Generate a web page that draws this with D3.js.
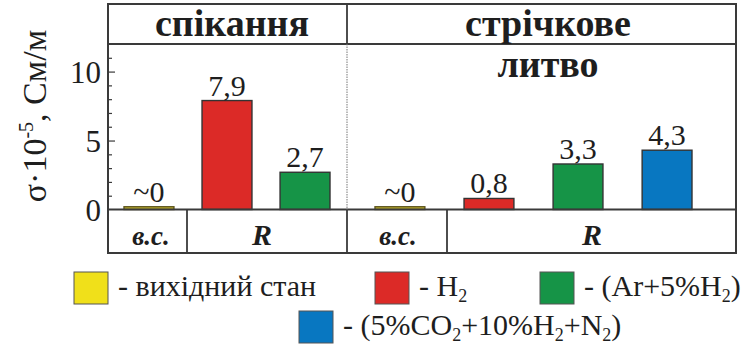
<!DOCTYPE html>
<html>
<head>
<meta charset="utf-8">
<script src="https://cdn.jsdelivr.net/npm/d3@7/dist/d3.min.js"></script>
<style>
  body { margin: 0; background: #fff; }
</style>
</head>
<body>
<svg id="chart" width="747" height="361"></svg>
<script>
// Conductivity σ·10^-5, См/м by processing route and atmosphere
const sinterCats = ["вс", "H2", "Ar"];
const sinterValues = [0.2, 7.9, 2.7];
const sinterLabels = ["~0", "7,9", "2,7"];

const castCats = ["вс", "H2", "Ar", "CO2"];
const castValues = [0.2, 0.8, 3.3, 4.3];
const castLabels = ["~0", "0,8", "3,3", "4,3"];

const yTicks = [0, 5, 10];
const colors = { "вс": "#f0e01a", "H2": "#dc2a27", "Ar": "#169447", "CO2": "#0877c1" };
const legendItems = [
  { key: "вс", parts: [["- вихідний стан"]] },
  { key: "H2", parts: [["- H"], ["2", "sub"]] },
  { key: "Ar", parts: [["- (Ar+5%H"], ["2", "sub"], [")"]] },
  { key: "CO2", parts: [["- (5%CO"], ["2", "sub"], ["+10%H"], ["2", "sub"], ["+N"], ["2", "sub"], [")"]] }
];

const serif = "'Liberation Serif', serif";
const svg = d3.select("#chart").style("font-family", serif);
const frameColor = "#3a3a3a";
const ink = "#1e1e1e";

const fLeft = 108, fRight = 736, fTop = 4, headerBottom = 44, base = 209.5, fBottom = 253, mid = 347;
const y = d3.scaleLinear().domain([0, 12]).range([base, headerBottom]);

// bars and value labels for one panel
function drawBars(scale, cats, vals, labels) {
  const g = svg.append("g");
  g.selectAll("rect").data(cats).join("rect")
    .attr("x", d => scale(d))
    .attr("width", scale.bandwidth())
    .attr("y", (d, i) => y(vals[i]))
    .attr("height", (d, i) => y(0) - y(vals[i]))
    .attr("fill", d => d === "вс" ? "#c9b92a" : colors[d])
    .attr("stroke", d => d === "вс" ? "#5e5620" : "#333")
    .attr("stroke-width", 1.4);
  g.selectAll("text").data(cats).join("text")
    .attr("x", d => scale(d) + scale.bandwidth() / 2)
    .attr("y", (d, i) => y(vals[i]) - 5)
    .attr("text-anchor", "middle")
    .style("font-family", serif)
    .attr("font-size", 30)
    .attr("fill", ink)
    .text((d, i) => labels[i]);
}

const xSinter = d3.scaleBand().domain(sinterCats).range([124, 330]).paddingInner(0.36).paddingOuter(0);
const xCast = d3.scaleBand().domain(castCats).range([375, 692]).paddingInner(0.44).paddingOuter(0);
drawBars(xSinter, sinterCats, sinterValues, sinterLabels);
drawBars(xCast, castCats, castValues, castLabels);

// frame
const lines = svg.append("g").attr("stroke", frameColor).attr("fill", "none");
lines.append("rect").attr("x", fLeft).attr("y", fTop).attr("width", fRight - fLeft).attr("height", fBottom - fTop).attr("stroke-width", 2);
[[fLeft, fRight, headerBottom, headerBottom], [fLeft, fRight, base, base],
 [mid, mid, fTop, headerBottom], [mid, mid, base, fBottom],
 [187, 187, base, fBottom], [447, 447, base, fBottom]]
  .forEach(([x1, x2, y1, y2]) => lines.append("line").attr("x1", x1).attr("x2", x2).attr("y1", y1).attr("y2", y2).attr("stroke-width", 1.8));
lines.append("line").attr("x1", mid).attr("x2", mid).attr("y1", headerBottom).attr("y2", base)
  .attr("stroke-width", 1).attr("stroke", "#777").attr("stroke-dasharray", "1.5,1");

// y axis ticks (inward)
const axis = d3.axisRight(y).ticks(12).tickSize(4).tickFormat("");
const ag = svg.append("g").attr("transform", `translate(${fLeft},0)`).call(axis);
ag.select(".domain").remove();
ag.selectAll(".tick line").attr("stroke", frameColor).attr("stroke-width", 1.2)
  .attr("x2", d => yTicks.includes(d) ? 7 : 4);
ag.selectAll(".tick").filter(d => d === 0 || d > 11).remove();

svg.append("g").selectAll("text").data(yTicks).join("text")
  .attr("x", 101).attr("y", d => y(d) + 11)
  .attr("text-anchor", "end").style("font-family", serif).attr("font-size", 31).attr("fill", ink)
  .text(d => d);

// y axis title
const yt = svg.append("text").attr("transform", "translate(46,116) rotate(-90)")
  .attr("text-anchor", "middle").style("font-family", serif).attr("font-size", 34).attr("fill", ink);
yt.append("tspan").text("σ·10");
yt.append("tspan").attr("font-size", 20).attr("dy", -13).text("-5");
yt.append("tspan").attr("dy", 13).text(", См/м");

// headers
function header(x, yy, t) {
  svg.append("text").attr("x", x).attr("y", yy).attr("text-anchor", "middle")
    .style("font-family", serif).attr("font-size", 38).attr("font-weight", "bold").attr("fill", ink).text(t);
}
header(232, 36, "спікання");
header(548, 36, "стрічкове");
header(548, 77, "литво");

// bottom row
const rowY = 245;
[[151, "в.с.", 27], [262, "R", 30], [398, "в.с.", 27], [592, "R", 30]]
  .forEach(([x, t, s]) => svg.append("text").attr("x", x).attr("y", rowY).attr("text-anchor", "middle")
    .style("font-family", serif).attr("font-size", s).attr("font-weight", "bold").attr("font-style", "italic")
    .attr("fill", ink).text(t));

// legend
const lg = svg.append("g").style("font-family", serif).attr("font-size", 30).attr("fill", ink);
const legPos = [[74, 272], [375, 272], [540, 272], [299, 311]];
legendItems.forEach((it, i) => {
  const [lx, ly] = legPos[i];
  lg.append("rect").attr("x", lx).attr("y", ly).attr("width", 34).attr("height", 32)
    .attr("fill", colors[it.key]).attr("stroke", "#555").attr("stroke-width", 1);
  const t = lg.append("text").attr("x", lx + 44).attr("y", ly + 24);
  let shifted = false;
  it.parts.forEach(([s, kind]) => {
    const sp = t.append("tspan").text(s);
    if (kind === "sub") { sp.attr("font-size", 18).attr("dy", 6); shifted = true; }
    else if (shifted) { sp.attr("dy", -6); shifted = false; }
  });
});
</script>
</body>
</html>
